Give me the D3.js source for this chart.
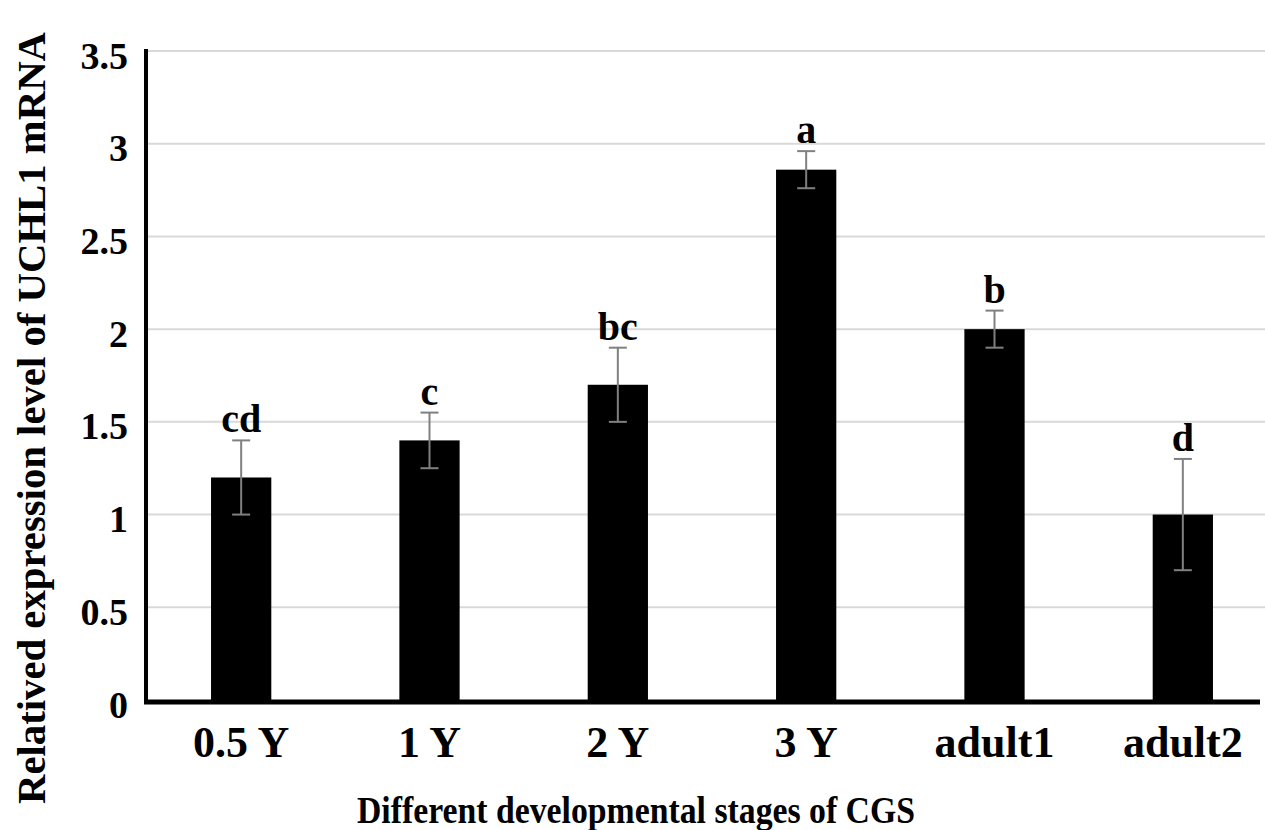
<!DOCTYPE html>
<html>
<head>
<meta charset="utf-8">
<script src="https://cdn.jsdelivr.net/npm/d3@7"></script>
<style>
  html, body { margin: 0; padding: 0; background: #fff; }
  svg { display: block; }
  text { font-family: "Liberation Serif", "Times New Roman", serif; font-weight: bold; fill: #000; }
</style>
</head>
<body>
<svg id="chart" width="1265" height="830"></svg>
<script>
const categories = ["0.5 Y", "1 Y", "2 Y", "3 Y", "adult1", "adult2"];
const values = [1.2, 1.4, 1.7, 2.86, 2.0, 1.0];
const errors = [0.2, 0.15, 0.2, 0.1, 0.1, 0.3];
const letters = ["cd", "c", "bc", "a", "b", "d"];
const yTicks = [0, 0.5, 1, 1.5, 2, 2.5, 3, 3.5];
const xTitle = "Different developmental stages of CGS";
const yTitle = "Relatived expression level of UCHL1 mRNA";

const svg = d3.select("#chart");
const x = d3.scaleBand().domain(categories).range([147, 1277]).paddingInner(0.68).paddingOuter(0.34);
const y = d3.scaleLinear().domain([0, 3.5]).range([700, 51]);

// gridlines
svg.append("g").selectAll("line").data(yTicks.filter(d => d > 0)).join("line")
  .attr("x1", 148).attr("x2", 1265)
  .attr("y1", d => y(d)).attr("y2", d => y(d))
  .attr("stroke", "#d9d9d9").attr("stroke-width", 2);

// bars
svg.append("g").selectAll("rect").data(categories).join("rect")
  .attr("x", d => x(d)).attr("width", x.bandwidth())
  .attr("y", (d, i) => y(values[i])).attr("height", (d, i) => y(0) - y(values[i]))
  .attr("fill", "#000");

// error bars
const eb = svg.append("g").attr("stroke", "#808080").attr("stroke-width", 2);
categories.forEach((c, i) => {
  const cx = x(c) + x.bandwidth() / 2;
  const top = y(values[i] + errors[i]), bot = y(values[i] - errors[i]);
  eb.append("line").attr("x1", cx).attr("x2", cx).attr("y1", top).attr("y2", bot);
  eb.append("line").attr("x1", cx - 9).attr("x2", cx + 9).attr("y1", top).attr("y2", top);
  eb.append("line").attr("x1", cx - 9).attr("x2", cx + 9).attr("y1", bot).attr("y2", bot);
});

// significance letters
svg.append("g").selectAll("text").data(categories).join("text")
  .attr("x", d => x(d) + x.bandwidth() / 2)
  .attr("y", (d, i) => y(values[i] + errors[i]) - 8)
  .attr("text-anchor", "middle").attr("font-size", 40)
  .text((d, i) => letters[i]);

// y axis
const yAxis = d3.axisLeft(y).tickValues(yTicks).tickSize(0).tickPadding(18).tickFormat(d => d3.format("")(d));
const gy = svg.append("g").attr("transform", "translate(146,0)").call(yAxis);
gy.select(".domain").remove();
gy.selectAll("text").attr("font-size", 38).attr("font-family", null).attr("dy", "0.45em");
svg.append("line").attr("x1", 146).attr("x2", 146).attr("y1", 49).attr("y2", 704)
  .attr("stroke", "#000").attr("stroke-width", 4);

// x axis
const xAxis = d3.axisBottom(x).tickSize(0);
const gx = svg.append("g").attr("transform", "translate(0,702)").call(xAxis);
gx.select(".domain").remove();
gx.selectAll("text").attr("font-size", 44).attr("font-family", null).attr("y", 55).attr("dy", "0");
svg.append("line").attr("x1", 144).attr("x2", 1260).attr("y1", 702).attr("y2", 702)
  .attr("stroke", "#000").attr("stroke-width", 5);

// titles
svg.append("text").attr("x", 636).attr("y", 823).attr("text-anchor", "middle")
  .attr("font-size", 37).attr("textLength", 558).attr("lengthAdjust", "spacingAndGlyphs").text(xTitle);
svg.append("text").attr("transform", "translate(45,418) rotate(-90)").attr("text-anchor", "middle")
  .attr("font-size", 40).attr("textLength", 772).attr("lengthAdjust", "spacingAndGlyphs").text(yTitle);
</script>
</body>
</html>
